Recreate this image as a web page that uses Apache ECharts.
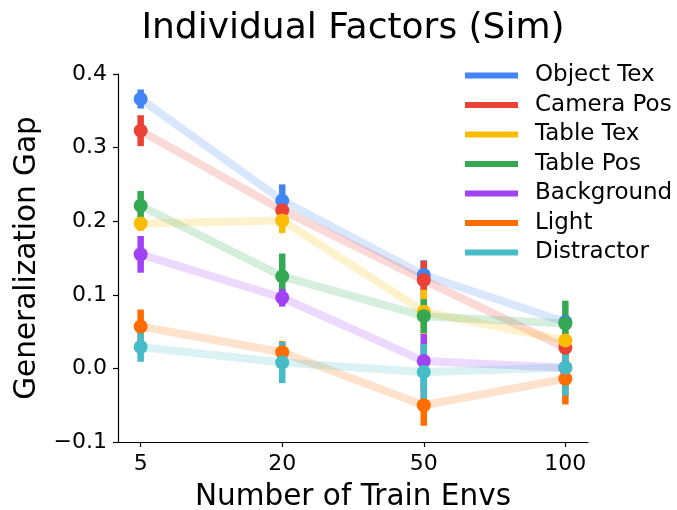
<!DOCTYPE html>
<html>
<head>
<meta charset="utf-8">
<script src="https://cdn.jsdelivr.net/npm/echarts@6/dist/echarts.min.js"></script>
<style>
  html, body { margin: 0; padding: 0; background: #ffffff; }
  #chart { width: 677px; height: 510px; }
</style>
</head>
<body>
<div id="chart"></div>
<script>
// Number of training environments (evenly spaced categories)
const envCounts = ['5', '20', '50', '100'];

const factorNames = ['Object Tex', 'Camera Pos', 'Table Tex', 'Table Pos', 'Background', 'Light', 'Distractor'];
const factorColors = ['#4285F4', '#EA4335', '#FBBC04', '#34A853', '#A142F4', '#FF6D01', '#46BDC6'];

// Mean generalization gap per factor
const objectTex  = [0.366, 0.228, 0.127, 0.063];
const cameraPos  = [0.323, 0.215, 0.120, 0.028];
const tableTex   = [0.197, 0.201, 0.077, 0.038];
const tablePos   = [0.221, 0.125, 0.071, 0.061];
const background = [0.155, 0.096, 0.010, 0.001];
const light      = [0.057, 0.022, -0.050, -0.014];
const distractor = [0.029, 0.008, -0.005, 0.001];

// Error bar half-widths
const objectTexErr  = [0.013, 0.022, 0.020, 0.010];
const cameraPosErr  = [0.021, 0.015, 0.026, 0.015];
const tableTexErr   = [0.010, 0.017, 0.030, 0.012];
const tablePosErr   = [0.020, 0.031, 0.023, 0.031];
const backgroundErr = [0.025, 0.012, 0.037, 0.010];
const lightErr      = [0.023, 0.015, 0.028, 0.035];
const distractorErr = [0.020, 0.028, 0.038, 0.038];

const yTicks = [-0.1, 0.0, 0.1, 0.2, 0.3, 0.4];

const means = [objectTex, cameraPos, tableTex, tablePos, background, light, distractor];
const errs = [objectTexErr, cameraPosErr, tableTexErr, tablePosErr, backgroundErr, lightErr, distractorErr];

const FONT = 'DejaVu Sans';
const chart = echarts.init(document.getElementById('chart'), null, { renderer: 'canvas' });

// Per factor: translucent connecting line, error bars, then solid markers on top
const markerSeries = [], lineSeries = [], barSeries = [];
factorNames.forEach((name, k) => {
  const color = factorColors[k];
  const pts = means[k].map((v, i) => [i, v]);
  markerSeries.push({
    name, type: 'scatter', data: pts, symbol: 'circle', symbolSize: 14,
    itemStyle: { color, opacity: 1 }, z: 4, silent: true
  });
  lineSeries.push({
    name, type: 'line', data: pts, showSymbol: false, symbol: 'none',
    lineStyle: { color, width: 8, opacity: 0.2 }, itemStyle: { color },
    z: 2, silent: true
  });
  barSeries.push({
    name, type: 'custom', clip: false, silent: true, z: 3,
    data: means[k].map((v, i) => [i, v, errs[k][i]]),
    encode: { x: 0, y: 1 },
    renderItem: (params, api) => {
      const x = api.value(0), y = api.value(1), e = api.value(2);
      const top = api.coord([x, y + e]);
      const bot = api.coord([x, y - e]);
      const w = 6.5;
      return {
        type: 'rect',
        shape: { x: top[0] - w / 2, y: top[1], width: w, height: bot[1] - top[1] },
        style: { fill: color }
      };
    }
  });
});

const option = {
  animation: false,
  backgroundColor: '#ffffff',
  textStyle: { fontFamily: FONT },
  grid: { left: 118, right: 89, top: 74, bottom: 68, containLabel: false },
  xAxis: {
    type: 'value', min: -0.16, max: 3.16,
    axisLine: { show: true, onZero: false, lineStyle: { color: '#000', width: 1.2 } },
    axisTick: { show: true, customValues: [0, 1, 2, 3], length: 5, lineStyle: { color: '#000', width: 1.2 } },
    axisLabel: {
      customValues: [0, 1, 2, 3], margin: 11,
      formatter: v => envCounts[Math.round(v)],
      fontSize: 22, fontFamily: FONT, color: '#000'
    },
    splitLine: { show: false }
  },
  yAxis: {
    type: 'value', min: -0.1, max: 0.4, interval: 0.1,
    axisLine: { show: true, onZero: false, lineStyle: { color: '#000', width: 1.2 } },
    axisTick: { show: true, length: 5, lineStyle: { color: '#000', width: 1.2 } },
    axisLabel: {
      margin: 11, fontSize: 22, fontFamily: FONT, color: '#000',
      formatter: v => {
        const t = yTicks.reduce((a, b) => Math.abs(b - v) < Math.abs(a - v) ? b : a);
        return (t < -1e-9 ? '\u2212' : '') + Math.abs(t).toFixed(1);
      }
    },
    splitLine: { show: false }
  },
  legend: {
    orient: 'vertical', left: 465, top: 64, padding: 0,
    itemWidth: 53, itemHeight: 6, itemGap: 6.5,
    icon: 'rect', selectedMode: false,
    textStyle: { fontSize: 23, fontFamily: FONT, color: '#000', padding: [0, 0, 0, 12] },
    data: factorNames.map((n, i) => ({ name: n, icon: 'rect', itemStyle: { color: factorColors[i], opacity: 1 } }))
  },
  graphic: [
    {
      type: 'text', x: 353, y: 29,
      style: { text: 'Individual Factors (Sim)', font: '36px "DejaVu Sans"', fill: '#000', align: 'center', verticalAlign: 'middle' }
    },
    {
      type: 'text', x: 353, y: 497,
      style: { text: 'Number of Train Envs', font: '29.5px "DejaVu Sans"', fill: '#000', align: 'center', verticalAlign: 'middle' }
    },
    {
      type: 'text', x: 27, y: 258, rotation: Math.PI / 2,
      style: { text: 'Generalization Gap', font: '29.5px "DejaVu Sans"', fill: '#000', align: 'center', verticalAlign: 'middle' }
    }
  ],
  series: [...markerSeries, ...lineSeries, ...barSeries]
};

chart.setOption(option);
</script>
</body>
</html>
